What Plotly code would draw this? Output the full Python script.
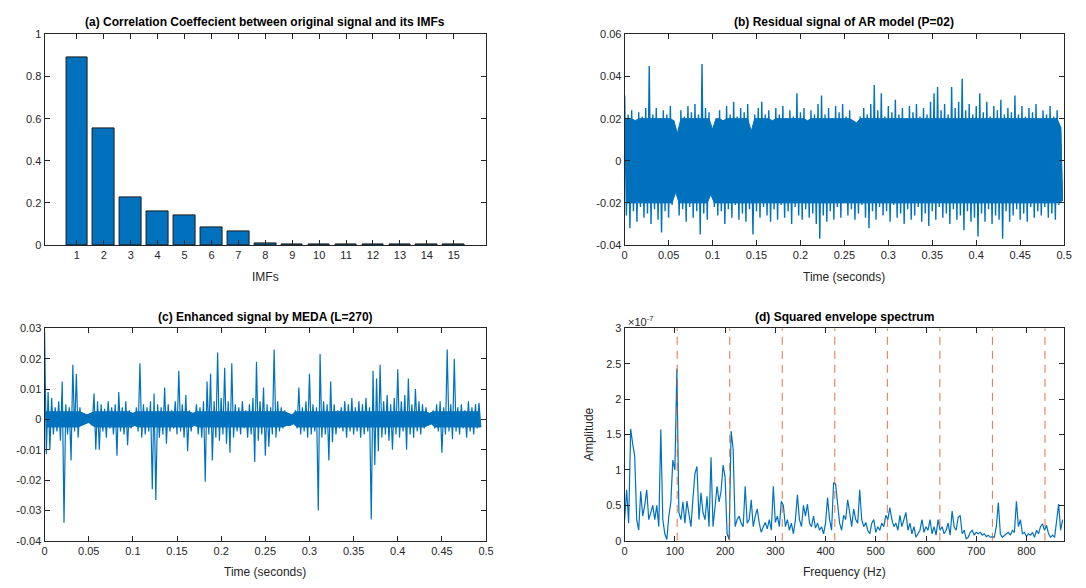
import plotly.graph_objects as go

# ---------------- data ----------------
imf_labels = list(range(1, 16))
imf_corr = [0.89, 0.555, 0.225, 0.158, 0.14, 0.083, 0.065, 0.008, 0.003, 0.001,
            0.001, 0.003, 0.002, 0.003, 0.003]

# (b) residual signal: local maxima / minima read every 0.004 s
resid_step = 0.004
resid_upper = [0.031, 0.022, 0.024, 0.019, 0.023, 0.021, 0.025, 0.045, 0.022, 0.025,
               0.020, 0.024, 0.022, 0.026, 0.019, 0.013, 0.024, 0.021, 0.026, 0.023,
               0.027, 0.022, 0.046, 0.025, 0.023, 0.015, 0.020, 0.024, 0.019, 0.026,
               0.022, 0.028, 0.021, 0.025, 0.023, 0.027, 0.014, 0.022, 0.025, 0.028,
               0.022, 0.024, 0.019, 0.025, 0.022, 0.026, 0.020, 0.024, 0.021, 0.032,
               0.023, 0.025, 0.019, 0.024, 0.022, 0.027, 0.031, 0.022, 0.025, 0.020,
               0.026, 0.023, 0.027, 0.021, 0.024, 0.019, 0.018, 0.021, 0.025, 0.022,
               0.027, 0.036, 0.024, 0.032, 0.021, 0.026, 0.023, 0.029, 0.022, 0.025,
               0.020, 0.026, 0.023, 0.027, 0.021, 0.025, 0.022, 0.028, 0.032, 0.035,
               0.024, 0.027, 0.022, 0.035, 0.025, 0.028, 0.039, 0.024, 0.027, 0.022,
               0.026, 0.032, 0.023, 0.028, 0.021, 0.026, 0.024, 0.029, 0.022, 0.025,
               0.023, 0.031, 0.022, 0.026, 0.021, 0.025, 0.023, 0.027, 0.020, 0.024,
               0.022, 0.026, 0.021, 0.024, 0.016]
resid_lower = [-0.026, -0.032, -0.024, -0.029, -0.022, -0.027, -0.025, -0.030, -0.023, -0.028,
               -0.034, -0.024, -0.027, -0.021, -0.015, -0.026, -0.023, -0.029, -0.022, -0.027,
               -0.024, -0.035, -0.025, -0.028, -0.016, -0.022, -0.026, -0.024, -0.030, -0.023,
               -0.027, -0.021, -0.028, -0.025, -0.029, -0.023, -0.035, -0.024, -0.027, -0.022,
               -0.026, -0.029, -0.023, -0.028, -0.021, -0.027, -0.024, -0.030, -0.022, -0.026,
               -0.028, -0.023, -0.027, -0.025, -0.030, -0.037, -0.026, -0.029, -0.024, -0.028,
               -0.022, -0.027, -0.020, -0.026, -0.023, -0.028, -0.025, -0.021, -0.027, -0.032,
               -0.024, -0.028, -0.022, -0.026, -0.024, -0.029, -0.021, -0.027, -0.025, -0.030,
               -0.023, -0.028, -0.026, -0.022, -0.029, -0.025, -0.031, -0.024, -0.028, -0.022,
               -0.027, -0.025, -0.030, -0.023, -0.028, -0.026, -0.033, -0.024, -0.029, -0.027,
               -0.036, -0.025, -0.029, -0.023, -0.030, -0.026, -0.028, -0.037, -0.024, -0.029,
               -0.026, -0.023, -0.028, -0.025, -0.029, -0.022, -0.027, -0.024, -0.026, -0.022,
               -0.027, -0.025, -0.028, -0.021, -0.019]
resid_core = 0.020  # half-width of the solid dense band

# (c) MEDA enhanced signal: local maxima / minima read every 0.004 s
meda_step = 0.004
meda_upper = [0.029, 0.009, 0.007, 0.004, 0.006, 0.0125, 0.005, 0.004, 0.018, 0.015,
              0.004, 0.002, 0.0015, 0.002, 0.0085, 0.006, 0.005, 0.0035, 0.006, 0.004,
              0.005, 0.009, 0.004, 0.006, 0.003, 0.002, 0.004, 0.0185, 0.005, 0.004,
              0.006, 0.0085, 0.005, 0.004, 0.0105, 0.005, 0.003, 0.006, 0.016, 0.005,
              0.008, 0.003, 0.002, 0.005, 0.004, 0.006, 0.0125, 0.015, 0.006, 0.022,
              0.007, 0.017, 0.006, 0.0185, 0.005, 0.004, 0.006, 0.003, 0.005, 0.007,
              0.019, 0.006, 0.0105, 0.005, 0.004, 0.023, 0.006, 0.004, 0.003, 0.002,
              0.0015, 0.003, 0.0105, 0.004, 0.006, 0.015, 0.005, 0.004, 0.0215, 0.006,
              0.005, 0.0125, 0.005, 0.003, 0.004, 0.006, 0.005, 0.007, 0.004, 0.006,
              0.005, 0.007, 0.004, 0.016, 0.0135, 0.018, 0.006, 0.008, 0.005, 0.007,
              0.0165, 0.006, 0.008, 0.0135, 0.005, 0.010, 0.006, 0.005, 0.004, 0.002,
              0.003, 0.005, 0.006, 0.004, 0.023, 0.005, 0.020, 0.004, 0.005, 0.003,
              0.006, 0.004, 0.005, 0.0055]
meda_lower = [-0.0115, -0.010, -0.005, -0.004, -0.007, -0.034, -0.005, -0.0135, -0.004, -0.006,
              -0.002, -0.0015, -0.001, -0.002, -0.010, -0.010, -0.004, -0.006, -0.003, -0.005,
              -0.012, -0.004, -0.005, -0.0085, -0.003, -0.002, -0.004, -0.006, -0.005, -0.004,
              -0.023, -0.0265, -0.006, -0.005, -0.008, -0.004, -0.003, -0.005, -0.004, -0.006,
              -0.0105, -0.004, -0.002, -0.005, -0.006, -0.0205, -0.005, -0.0135, -0.006, -0.007,
              -0.005, -0.008, -0.011, -0.006, -0.004, -0.005, -0.003, -0.006, -0.005, -0.014,
              -0.007, -0.005, -0.012, -0.009, -0.005, -0.006, -0.004, -0.003, -0.002, -0.002,
              -0.0015, -0.003, -0.005, -0.004, -0.006, -0.005, -0.004, -0.030, -0.006, -0.005,
              -0.0135, -0.0075, -0.005, -0.003, -0.004, -0.006, -0.004, -0.005, -0.004, -0.006,
              -0.005, -0.004, -0.033, -0.015, -0.0105, -0.006, -0.005, -0.007, -0.010, -0.005,
              -0.006, -0.004, -0.010, -0.005, -0.006, -0.004, -0.005, -0.003, -0.002, -0.0015,
              -0.003, -0.004, -0.011, -0.005, -0.004, -0.0065, -0.004, -0.005, -0.003, -0.006,
              -0.004, -0.005, -0.003, -0.0025]
meda_core = 0.0025  # half-width of the dense low-level band

# (d) squared envelope spectrum, amplitude in units of 1e-7, every 4 Hz
spec_step_hz = 4
spec_amp_e7 = [0.30, 0.72, 0.25, 1.58, 1.37, 1.20, 0.30, 0.15, 0.70, 0.35,
               0.50, 0.72, 0.30, 0.40, 0.50, 0.30, 0.50, 0.20, 1.57, 0.30,
               0.10, 0.02, 0.35, 0.55, 1.14, 1.00, 2.43, 0.40, 0.30, 0.55,
               0.25, 0.56, 0.35, 0.20, 0.60, 0.95, 1.05, 0.30, 0.68, 0.40,
               0.30, 0.63, 0.20, 1.18, 0.20, 0.45, 0.77, 0.55, 0.70, 1.07,
               0.90, 0.10, 0.02, 1.55, 1.30, 0.20, 0.30, 0.35, 0.25, 0.20,
               0.77, 0.25, 0.30, 0.58, 0.20, 0.35, 0.45, 0.25, 0.12, 0.20,
               0.26, 0.17, 0.30, 0.15, 0.77, 0.26, 0.35, 0.20, 0.56, 0.50,
               0.20, 0.30, 0.15, 0.25, 0.10, 0.30, 0.65, 0.30, 0.20, 0.50,
               0.35, 0.52, 0.25, 0.20, 0.35, 0.18, 0.25, 0.15, 0.20, 0.10,
               0.25, 0.61, 0.30, 0.15, 0.82, 0.80, 0.54, 0.25, 0.15, 0.36,
               0.30, 0.58, 0.40, 0.20, 0.45, 0.30, 0.25, 0.72, 0.30, 0.20,
               0.26, 0.15, 0.10, 0.25, 0.30, 0.12, 0.20, 0.15, 0.25, 0.20,
               0.36, 0.30, 0.47, 0.30, 0.20, 0.25, 0.15, 0.36, 0.20, 0.30,
               0.40, 0.15, 0.25, 0.10, 0.20, 0.05, 0.10, 0.15, 0.30, 0.12,
               0.20, 0.15, 0.30, 0.10, 0.20, 0.08, 0.30, 0.15, 0.20, 0.10,
               0.15, 0.25, 0.08, 0.42, 0.20, 0.15, 0.33, 0.36, 0.10, 0.15,
               0.03, 0.05, 0.12, 0.15, 0.08, 0.12, 0.10, 0.12, 0.08, 0.10,
               0.06, 0.08, 0.05, 0.06, 0.05, 0.20, 0.54, 0.10, 0.05, 0.08,
               0.10, 0.12, 0.08, 0.15, 0.12, 0.56, 0.20, 0.30, 0.10, 0.12,
               0.06, 0.10, 0.08, 0.12, 0.05, 0.15, 0.10, 0.20, 0.24, 0.15,
               0.22, 0.10, 0.05, 0.08, 0.05, 0.28, 0.52, 0.15, 0.30]
bpfo_harmonics = [104.6, 209.2, 313.8, 418.4, 523.0, 627.6, 732.2, 836.8]

# ---------------- helpers ----------------
W, H = 1086, 588
BLUE = "#0072BD"
ORANGE = "#D95319"
AX = "#262626"
FONT = "Liberation Sans, Arial, sans-serif"


def px_x(p):
    return p / W


def px_y(p):
    return 1 - p / H


def zigzag(upper, lower, step):
    xs, ys = [], []
    for i, (u, l) in enumerate(zip(upper, lower)):
        xs += [i * step, i * step + step / 2]
        ys += [u, l]
    return xs, ys


def band(upper, lower, step, cap):
    xs_u = [i * step for i in range(len(upper))]
    xs_l = [i * step + step / 2 for i in range(len(lower))]
    up = [min(u, cap) for u in upper]
    lo = [max(l, -cap) for l in lower]
    return xs_u + xs_l[::-1], up + lo[::-1]


fig = go.Figure()

# (a) bars
fig.add_trace(go.Bar(x=imf_labels, y=imf_corr, width=0.8, marker_color=BLUE,
                     marker_line_color="#1a1a1a", marker_line_width=1,
                     xaxis="x", yaxis="y", showlegend=False))

# (b) residual: dense core + spiky trace
px_, py_ = band(resid_upper, resid_lower, resid_step, resid_core)
fig.add_trace(go.Scatter(x=px_, y=py_, mode="lines", fill="toself", fillcolor=BLUE,
                         line=dict(color=BLUE, width=1), xaxis="x2", yaxis="y2",
                         showlegend=False, hoverinfo="skip"))
bx, by = zigzag(resid_upper, resid_lower, resid_step)
fig.add_trace(go.Scatter(x=bx, y=by, mode="lines", line=dict(color=BLUE, width=1.4),
                         xaxis="x2", yaxis="y2", showlegend=False))

# (c) MEDA
qx, qy = band(meda_upper, meda_lower, meda_step, meda_core)
fig.add_trace(go.Scatter(x=qx, y=qy, mode="lines", fill="toself", fillcolor=BLUE,
                         line=dict(color=BLUE, width=1), xaxis="x3", yaxis="y3",
                         showlegend=False, hoverinfo="skip"))
cx, cy = zigzag(meda_upper, meda_lower, meda_step)
fig.add_trace(go.Scatter(x=cx, y=cy, mode="lines", line=dict(color=BLUE, width=1.2),
                         xaxis="x3", yaxis="y3", showlegend=False))

# (d) spectrum
dx = [i * spec_step_hz for i in range(len(spec_amp_e7))]
fig.add_trace(go.Scatter(x=dx, y=spec_amp_e7, mode="lines", line=dict(color=BLUE, width=1.2),
                         xaxis="x4", yaxis="y4", showlegend=False))
for f in bpfo_harmonics:
    fig.add_trace(go.Scatter(x=[f, f], y=[0, 3], mode="lines",
                             line=dict(color=ORANGE, width=1, dash="8px,6px"),
                             opacity=0.8, xaxis="x4", yaxis="y4", showlegend=False))

common = dict(showline=True, linecolor=AX, linewidth=1, mirror="ticks", ticks="inside",
              ticklen=5, tickcolor=AX, showgrid=False, zeroline=False,
              tickfont=dict(family=FONT, size=11, color=AX))

dom_left = [px_x(42), px_x(488)]
dom_right = [px_x(628), px_x(1072)]
dom_top = [px_y(244), px_y(29)]
dom_bot = [px_y(546), px_y(329)]

t_ticks = [0, 0.05, 0.1, 0.15, 0.2, 0.25, 0.3, 0.35, 0.4, 0.45, 0.5]
t_text = ["0", "0.05", "0.1", "0.15", "0.2", "0.25", "0.3", "0.35", "0.4", "0.45", "0.5"]

fig.update_layout(
    width=W, height=H, margin=dict(l=0, r=0, t=0, b=0),
    paper_bgcolor="white", plot_bgcolor="white", bargap=0,
    xaxis=dict(domain=dom_left, anchor="y", range=[-0.2, 16.2],
               tickvals=imf_labels, ticktext=[str(v) for v in imf_labels], **common),
    yaxis=dict(domain=dom_top, anchor="x", range=[0, 1],
               tickvals=[0, 0.2, 0.4, 0.6, 0.8, 1],
               ticktext=["0", "0.2", "0.4", "0.6", "0.8", "1"], **common),
    xaxis2=dict(domain=dom_right, anchor="y2", range=[0, 0.5],
                tickvals=t_ticks, ticktext=t_text, **common),
    yaxis2=dict(domain=dom_top, anchor="x2", range=[-0.04, 0.06],
                tickvals=[-0.04, -0.02, 0, 0.02, 0.04, 0.06],
                ticktext=["-0.04", "-0.02", "0", "0.02", "0.04", "0.06"], **common),
    xaxis3=dict(domain=dom_left, anchor="y3", range=[0, 0.5],
                tickvals=t_ticks, ticktext=t_text, **common),
    yaxis3=dict(domain=dom_bot, anchor="x3", range=[-0.04, 0.03],
                tickvals=[-0.04, -0.03, -0.02, -0.01, 0, 0.01, 0.02, 0.03],
                ticktext=["-0.04", "-0.03", "-0.02", "-0.01", "0", "0.01", "0.02", "0.03"],
                **common),
    xaxis4=dict(domain=dom_right, anchor="y4", range=[0, 875],
                tickvals=[0, 100, 200, 300, 400, 500, 600, 700, 800],
                ticktext=["0", "100", "200", "300", "400", "500", "600", "700", "800"],
                **common),
    yaxis4=dict(domain=dom_bot, anchor="x4", range=[0, 3],
                tickvals=[0, 0.5, 1, 1.5, 2, 2.5, 3],
                ticktext=["0", "0.5", "1", "1.5", "2", "2.5", "3"], **common),
)


def ann(text, x, y, size=11, bold=False, angle=0, xanchor="center"):
    fig.add_annotation(text=f"<b>{text}</b>" if bold else text,
                       x=x / W, y=1 - y / H, xref="paper", yref="paper",
                       showarrow=False, textangle=angle, xanchor=xanchor, yanchor="middle",
                       font=dict(family=FONT, size=size, color="black" if bold else AX))


ann("(a) Correlation Coeffecient between original signal and its IMFs", 265, 16, 12, True)
ann("(b) Residual signal of AR model (P=02)", 850, 16, 12, True)
ann("(c) Enhanced signal by MEDA (L=270)", 265, 317, 12, True)
ann("(d) Squared envelope spectrum", 850, 317, 12, True)
ann("IMFs", 265, 277, 12)
ann("Time (seconds)", 850, 277, 12)
ann("Time (seconds)", 265, 578, 12)
ann("Frequency (Hz)", 850, 578, 12)
ann("Amplitude", 592, 437, 12, angle=-90)
ann("\u00d710<sup>-7</sup>", 629, 322, 11, xanchor="left")

fig.write_html("out.html")
